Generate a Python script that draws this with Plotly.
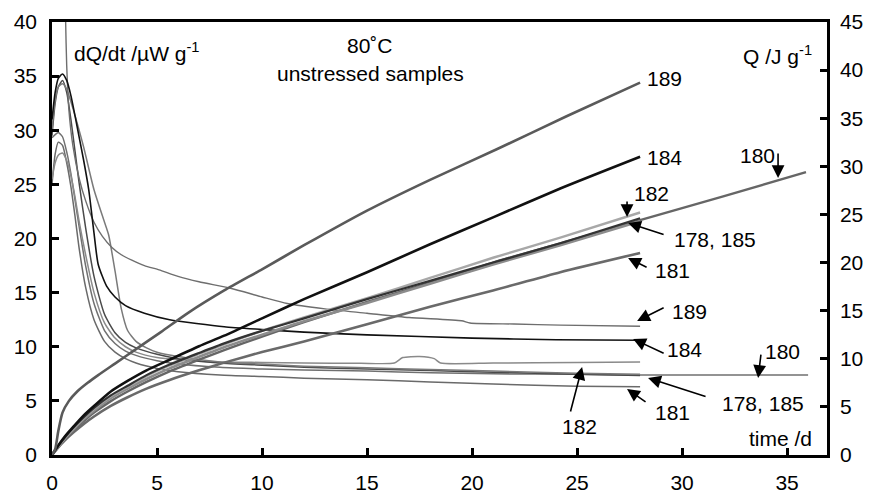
import plotly.graph_objects as go

# ---------------- data ----------------
# cumulative heat Q / J g-1 (right axis)
q_x = [0, 0.3, 0.6, 1.0, 1.5, 2.0, 2.8, 3.6, 4.5, 5.6, 7, 8.2, 10, 12, 15, 18, 21, 24.2, 28]
q189_x = [0, 0.15, 0.3, 0.5, 0.8, 1.2, 1.7, 2.2, 3.0, 4.0, 5.2, 6.5, 8.2, 10, 12, 15, 18, 21.2, 24.5, 28]
q189 = [0, 0.6, 2.5, 4.4, 5.6, 6.6, 7.5, 8.3, 9.5, 11.0, 12.8, 14.8, 17.1, 19.3, 21.8, 25.4, 28.6, 31.8, 35.2, 38.7]
q184 = [0, 1.0, 1.9, 2.9, 4.1, 5.1, 6.6, 7.7, 8.8, 9.9, 11.3, 12.4, 14.2, 16.2, 19.0, 21.9, 24.7, 27.7, 31.0]
q178 = [0, 0.95, 1.8, 2.8, 3.9, 4.9, 6.2, 7.2, 8.3, 9.4, 10.6, 11.6, 12.9, 14.2, 16.2, 18.1, 20.0, 22.0, 24.6]
q185 = [0, 0.9, 1.7, 2.6, 3.7, 4.6, 5.9, 6.9, 7.9, 9.0, 10.2, 11.2, 12.5, 13.9, 15.8, 17.8, 19.8, 21.8, 24.3]
q182 = [0, 0.9, 1.7, 2.7, 3.8, 4.8, 6.1, 7.1, 8.2, 9.3, 10.5, 11.5, 12.9, 14.3, 16.3, 18.4, 20.5, 22.6, 25.2]
q181 = [0, 0.8, 1.5, 2.3, 3.2, 4.0, 5.1, 6.0, 6.9, 7.8, 8.8, 9.6, 10.7, 11.8, 13.6, 15.4, 17.1, 19.0, 21.0]
q180_x = q_x + [32, 35.9]
q180 = [0, 0.85, 1.6, 2.5, 3.5, 4.4, 5.6, 6.6, 7.6, 8.7, 9.9, 10.9, 12.3, 13.8, 15.9, 17.9, 20.0, 22.0, 24.4, 26.9, 29.4]

# heat flow dQ/dt / uW g-1 (left axis)
f_x = [0, 0.15, 0.3, 0.5, 0.7, 0.9, 1.1, 1.3, 1.6, 2.0, 2.5, 3.0, 3.5, 4.0, 5.0, 6.0, 8.0, 10, 12, 15, 18, 21, 25, 28]
f178 = [29.5, 32.5, 34.0, 34.6, 33.5, 31.0, 28.0, 25.0, 21.0, 16.5, 13.0, 11.3, 10.4, 9.9, 9.3, 8.9, 8.5, 8.3, 8.1, 7.95, 7.8, 7.65, 7.45, 7.35]
f181 = [25.0, 27.8, 28.9, 28.6, 27.0, 24.8, 22.0, 19.0, 15.5, 12.5, 10.5, 9.5, 8.9, 8.5, 8.0, 7.7, 7.4, 7.25, 7.1, 6.95, 6.75, 6.55, 6.35, 6.3]
f180_x = f_x + [32, 36]
f180 = [29.3, 29.6, 29.8, 29.4, 28.0, 26.0, 23.5, 21.0, 17.5, 14.0, 11.5, 10.3, 9.6, 9.2, 8.7, 8.4, 8.1, 7.95, 7.85, 7.75, 7.6, 7.5, 7.45, 7.4, 7.4, 7.4]
f185_x = [0, 0.15, 0.3, 0.5, 0.7, 1.0, 1.5, 2.0, 2.5, 2.7, 3.0, 3.3, 3.6, 4.0, 4.5, 5.0, 6.0, 8.0, 10, 12, 15, 18, 21, 25, 28]
f185 = [30.0, 32.8, 34.0, 34.3, 33.8, 32.0, 28.5, 24.5, 21.5, 20.3, 17.0, 13.5, 11.5, 10.5, 9.9, 9.5, 9.1, 8.6, 8.4, 8.2, 8.05, 7.9, 7.75, 7.55, 7.45]
f182_x = [0, 0.15, 0.3, 0.5, 0.7, 0.9, 1.1, 1.3, 1.6, 2.0, 2.5, 3.0, 3.5, 4.0, 5.0, 6.0, 8.0, 10, 12, 14.7, 16.3, 16.7, 17.5, 18.2, 18.5, 21, 25, 28]
f182 = [25.5, 27.0, 27.7, 27.9, 27.2, 25.8, 23.8, 21.5, 18.5, 15.0, 12.2, 10.8, 10.0, 9.5, 9.0, 8.8, 8.6, 8.55, 8.5, 8.47, 8.5, 9.0, 9.1, 8.9, 8.5, 8.5, 8.55, 8.6]
f184_x = [0, 0.15, 0.3, 0.5, 0.7, 0.9, 1.1, 1.3, 1.5, 1.75, 2.0, 2.2, 2.6, 3.0, 3.5, 4.4, 5.6, 8.2, 10, 12, 15, 20, 24, 28]
f184 = [31, 33.5, 34.8, 35.2, 34.6, 33.2, 31.3, 29.3, 27.3, 24.5, 20.5, 17.6, 15.6, 14.6, 13.8, 13.1, 12.5, 11.85, 11.6, 11.35, 11.1, 10.8, 10.65, 10.6]
f189_x = [0.6, 0.65, 0.7, 0.8, 1.0, 1.3, 1.6, 2.0, 2.4, 2.84, 3.3, 3.8, 4.4, 5.1, 6.0, 7.0, 8.5, 10, 11.2, 13, 15, 17, 19.5, 19.9, 22, 24.2, 28]
f189 = [48, 40, 36, 32, 28.5, 25.5, 23.5, 21.5, 20.2, 19.2, 18.5, 18.0, 17.5, 17.1, 16.5, 16.0, 15.4, 14.6, 14.0, 13.5, 13.1, 12.7, 12.4, 12.2, 12.1, 12.0, 11.9]

x_ticks = [0, 5, 10, 15, 20, 25, 30, 35]
yl_ticks = [0, 5, 10, 15, 20, 25, 30, 35, 40]
yr_ticks = [0, 5, 10, 15, 20, 25, 30, 35, 40, 45]

FONT = "Liberation Sans, Arial, sans-serif"
FS = 21

fig = go.Figure()

def line(x, y, color, width, axis="y"):
    fig.add_trace(go.Scatter(x=x, y=y, mode="lines", yaxis=axis,
                             line=dict(color=color, width=width, shape="spline", smoothing=0.6),
                             showlegend=False, hoverinfo="skip"))

# heat flow curves (thin)
line(f_x, f181, "#6a6a6a", 1.5)
line(f180_x, f180, "#707070", 1.5)
line(f182_x, f182, "#8a8a8a", 1.5)
line(f_x, f178, "#4a4a4a", 1.5)
line(f185_x, f185, "#7a7a7a", 1.5)
line(f189_x, f189, "#6e6e6e", 1.4)
line(f184_x, f184, "#111111", 1.6)

# cumulative heat curves (thick)
line(q_x, q181, "#6a6a6a", 2.6, "y2")
line(q180_x, q180, "#666666", 2.4, "y2")
line(q_x, q185, "#8c8c8c", 2.6, "y2")
line(q_x, q182, "#a8a8a8", 2.4, "y2")
line(q_x, q178, "#333333", 2.2, "y2")
line(q_x, q184, "#111111", 2.6, "y2")
line(q189_x, q189, "#5a5a5a", 2.6, "y2")

ann = []
def text(x, y, s, xanchor="left"):
    ann.append(dict(x=x, y=y, xref="x", yref="y", text=s, showarrow=False,
                    xanchor=xanchor, yanchor="middle", font=dict(size=FS, color="black", family=FONT)))

def arrow(x, y, ax, ay):
    ann.append(dict(x=x, y=y, xref="x", yref="y", text="", showarrow=True, ax=ax, ay=ay,
                    arrowhead=2, arrowsize=1.6, arrowwidth=1.6, arrowcolor="black"))

# labels for Q curves
text(28.24, 34.8, "189")
text(28.24, 27.5, "184")
text(27.62, 24.2, "182")
text(29.52, 19.95, "178, 185")
text(32.67, 27.7, "180")
text(28.62, 17.0, "181")
# labels for flow curves
text(29.43, 13.3, "189")
text(29.19, 9.79, "184")
text(33.86, 9.54, "180")
text(31.81, 4.8, "178, 185")
text(28.62, 3.97, "181")
text(24.19, 2.59, "182")

arrow(27.38, 21.98, 0, -17)
arrow(27.43, 21.43, 37, 12)
arrow(34.57, 25.59, 0, -26)
arrow(27.43, 18.2, 20, 10)
arrow(27.86, 12.38, 28, -14)
arrow(27.67, 10.72, 32, 15)
arrow(33.62, 7.11, 3, -25)
arrow(28.38, 7.11, 59, 19)
arrow(27.38, 6.1, 20, 14)
arrow(25.24, 8.13, -12, 46)

# axis titles / headings
text((72 - 52) / 21, (455 - 52) / 10.825, "dQ/dt /µW g<sup>-1</sup>")
text((370 - 52) / 21, (455 - 45) / 10.825, "80˚C", "center")
text((370 - 52) / 21, (455 - 73) / 10.825, "unstressed samples", "center")
text((814 - 52) / 21, (455 - 55) / 10.825, "Q /J g<sup>-1</sup>", "right")
text((814 - 52) / 21, (455 - 438) / 10.825, "time /d", "right")

axis_common = dict(showline=True, linecolor="black", linewidth=2.5, ticks="inside",
                   ticklen=7, tickwidth=2.5, tickcolor="black", showgrid=False, zeroline=False,
                   automargin=False, tickfont=dict(size=FS, color="black", family=FONT))

fig.update_layout(
    width=869, height=494,
    margin=dict(l=52, r=42, t=22, b=39),
    paper_bgcolor="white", plot_bgcolor="white",
    showlegend=False,
    annotations=ann,
    xaxis=dict(range=[0, 36.9], tickvals=x_ticks, mirror=True, ticklabelstandoff=7, **axis_common),
    yaxis=dict(range=[0, 40], tickvals=yl_ticks, mirror=True, ticklabelstandoff=8, **axis_common),
    yaxis2=dict(range=[0, 45], tickvals=yr_ticks, overlaying="y", side="right",
                ticklabelstandoff=6, **axis_common),
)

fig.write_html("out.html")
